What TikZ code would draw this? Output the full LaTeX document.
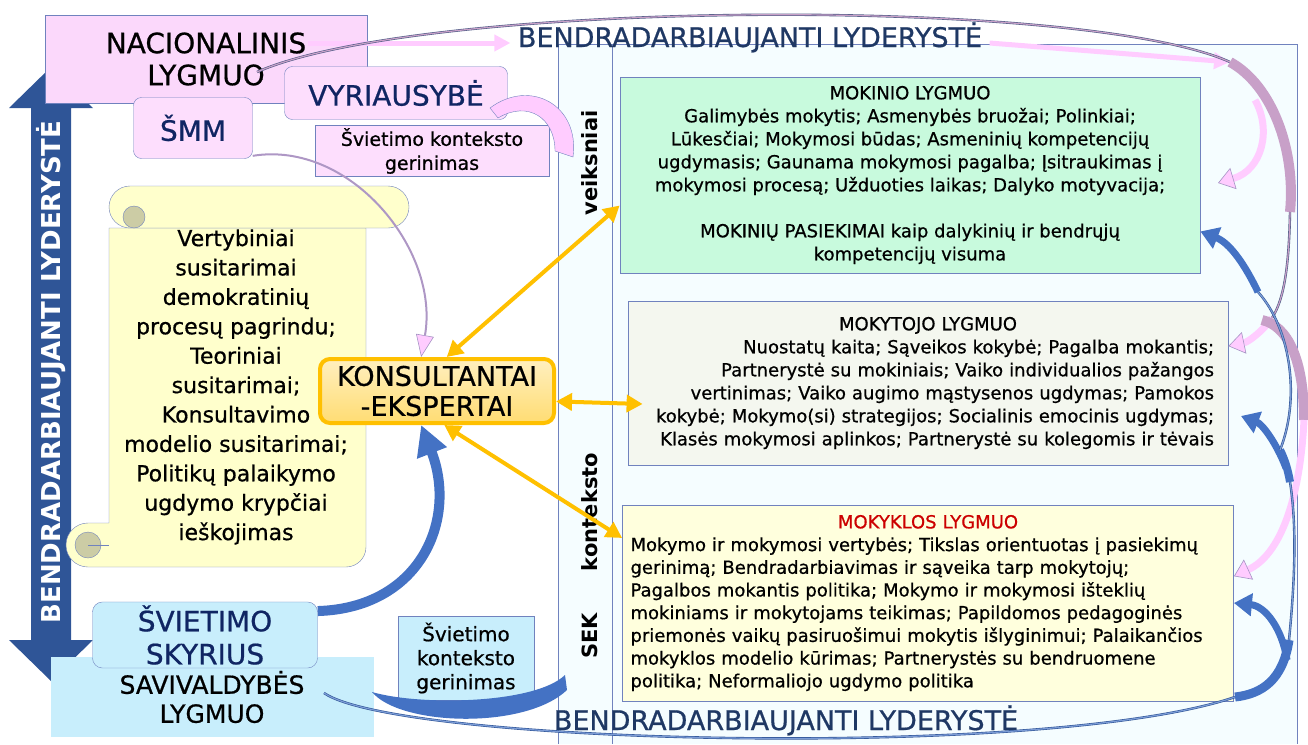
\documentclass[tikz,border=0pt]{standalone}
\usepackage{fontspec}
\setmainfont{DejaVu Sans}[UprightFeatures={FakeBold=0.7}]
\usetikzlibrary{arrows.meta, calc}
\definecolor{nacpink}{RGB}{251,216,251}
\definecolor{boxpink}{RGB}{253,222,253}
\definecolor{frameblue}{RGB}{112,130,190}
\definecolor{navy}{RGB}{16,37,99}
\definecolor{titleblue}{RGB}{31,56,100}
\definecolor{arrowblue}{RGB}{47,85,151}
\definecolor{bandblue}{RGB}{68,114,196}
\definecolor{panelfill}{RGB}{245,253,255}
\definecolor{mintfill}{RGB}{200,250,221}
\definecolor{paperfill}{RGB}{244,247,239}
\definecolor{creamfill}{RGB}{255,255,221}
\definecolor{scrollfill}{RGB}{255,255,204}
\definecolor{curlfill}{RGB}{204,204,165}
\definecolor{amber}{RGB}{255,192,0}
\definecolor{skyfill}{RGB}{200,238,252}
\definecolor{mauve}{RGB}{200,160,200}
\definecolor{rosa}{RGB}{255,204,255}
\definecolor{schoolred}{RGB}{204,0,0}
\tikzset{
    pinkbox/.style={draw=frameblue, fill=boxpink, rounded corners=8pt, text=navy, font=\fontsize{28}{30}\selectfont},
    levelbox/.style={draw=frameblue, line width=0.8pt, inner sep=0pt, font=\fontsize{18}{23}\selectfont},
    ctxbox/.style={draw=frameblue, align=center, inner sep=0pt},
    sidelabel/.style={rotate=90, font=\bfseries\fontsize{21}{21}\selectfont},
    leadtitle/.style={text=titleblue, anchor=base, font=\fontsize{27}{27}\selectfont},
    twoway/.style={{Triangle[length=16pt,width=17pt]}-{Triangle[length=16pt,width=17pt]}, amber, line width=4pt},
    rosaline/.style={-{Triangle[length=16pt,width=16pt]}, rosa, line width=5pt},
    rosaarrow/.style={-{Triangle[length=16pt,width=22pt,fill=rosa,color=mauve!60!frameblue,line width=0.6pt]}, rosa, line width=7pt},
    bluearrow/.style={-{Triangle[length=18pt,width=22pt]}, bandblue, line width=7pt},
    thinrope/.style={draw=frameblue!70!black, double=mauve, double distance=1.2pt, line width=0.6pt},
    bluerope/.style={draw=arrowblue, double=bandblue!70!white, double distance=1.2pt, line width=0.6pt}
}
\begin{document}
\begin{tikzpicture}[x=1pt, y=-1pt]
\useasboundingbox (0,0) rectangle (1308,744);

% SEK column
\fill[panelfill] (558,44) rectangle (1297,744);
\draw[frameblue] (558,744) -- (558,44) -- (1297,44) -- (1297,744);
\draw[frameblue] (612,44) -- (612,744);
\node[sidelabel] (veik) at (590,163) {veiksniai};
\node[sidelabel] (kont) at (590,512) {konteksto};
\node[sidelabel] (sek) at (590,636) {SEK};
\node[leadtitle] (toptitle) at (750,47) {BENDRADARBIAUJANTI LYDERYSTĖ};
\node[leadtitle] (bottitle) at (786,730) {BENDRADARBIAUJANTI LYDERYSTĖ};

% leadership arrow on the left
\fill[arrowblue] (51,67) -- (93,108) -- (71,108) -- (71,640) -- (93,640) -- (51,681) -- (9,640) -- (31,640) -- (31,108) -- (9,108) -- cycle;
\node[rotate=90, text=white, font=\bfseries\fontsize{26}{26}\selectfont] (leadleft) at (51,372) {BENDRADARBIAUJANTI LYDERYSTĖ};

% national level
\node[draw=frameblue, fill=nacpink, minimum width=322pt, minimum height=88pt, align=center, font=\fontsize{28}{32}\selectfont] (nac) at (206,59) {NACIONALINIS\\LYGMUO};
\node[pinkbox, minimum width=223pt, minimum height=53pt] (vyr) at (396,93) {VYRIAUSYBĖ};
\node[pinkbox, minimum width=119pt, minimum height=61pt] (smm) at (193,128) {ŠMM};
\node[ctxbox, fill=boxpink, minimum width=234pt, minimum height=51pt, font=\fontsize{19}{24}\selectfont] (gerin) at (432,151) {Švietimo konteksto\\gerinimas};

\coordinate (natail) at (308,43);
\coordinate (nacrope) at (257,72);
\coordinate (ropeturn) at (1230,62);
\draw[rosaline] (natail) -- ($(toptitle.base west)+(-4,-4)$);
\draw[rosaline] ($(toptitle.base east)+(4,-4)$) -- (ropeturn);
\draw[thinrope] (nacrope) .. controls (420,0) and (1080,-5) .. (ropeturn);
\draw[draw=frameblue, fill=rosa] (490,108) .. controls (530,78) and (580,105) .. (573,157) -- (555,151) .. controls (555,118) and (528,100) .. (498,118) -- cycle;

% scroll
\draw[draw=frameblue, fill=scrollfill] (109,228) -- (109,523) -- (88,523) arc[start angle=270, end angle=90, radius=22] -- (346,567) arc[start angle=90, end angle=0, radius=20] -- (366,228) -- cycle;
\draw[draw=frameblue, fill=curlfill] (88,545) circle[radius=13];
\draw[frameblue] (88,545) -- (109,545);
\draw[draw=frameblue, fill=scrollfill, rounded corners=21pt] (109,186) rectangle (409,228);
\draw[draw=frameblue, fill=curlfill] (134,217) circle[radius=11];
\node[align=center, font=\fontsize{22}{29.4}\selectfont] (agree) at (236,387) {Vertybiniai\\susitarimai\\demokratinių\\procesų pagrindu;\\Teoriniai\\susitarimai;\\Konsultavimo\\modelio susitarimai;\\Politikų palaikymo\\ugdymo krypčiai\\ieškojimas};

\node[draw=amber, line width=4pt, rounded corners=10pt, top color=amber!25!white, bottom color=amber!55!white, minimum width=234pt, minimum height=64pt, align=center, font=\fontsize{27}{30}\selectfont] (konsult) at (437,391) {KONSULTANTAI\\-EKSPERTAI};

% levels
\node[levelbox, fill=mintfill, align=center, minimum width=580pt, minimum height=196pt] (mokinio) at (910,175) {MOKINIO LYGMUO\\
    Galimybės mokytis; Asmenybės bruožai; Polinkiai;\\
    Lūkesčiai; Mokymosi būdas; Asmeninių kompetencijų\\
    ugdymasis; Gaunama mokymosi pagalba; Įsitraukimas į\\
    mokymosi procesą; Užduoties laikas; Dalyko motyvacija;\\[23pt]
    MOKINIŲ PASIEKIMAI kaip dalykinių ir bendrųjų\\
    kompetencijų visuma};
\node[levelbox, fill=paperfill, text width=572pt, inner xsep=14pt, minimum height=164pt] (mokytojo) at (928,383) {\centering MOKYTOJO LYGMUO\par
    \raggedleft Nuostatų kaita; Sąveikos kokybė; Pagalba mokantis;\\
    Partnerystė su mokiniais; Vaiko individualios pažangos\\
    vertinimas; Vaiko augimo mąstysenos ugdymas; Pamokos\\
    kokybė; Mokymo(si) strategijos; Socialinis emocinis ugdymas;\\
    Klasės mokymosi aplinkos; Partnerystė su kolegomis ir tėvais\par};
\node[levelbox, fill=creamfill, text width=595pt, inner xsep=8pt, minimum height=196pt, font=\fontsize{18}{22.7}\selectfont] (mokyklos) at (928,603) {\centering\textcolor{schoolred}{MOKYKLOS LYGMUO}\par
    \raggedright Mokymo ir mokymosi vertybės; Tikslas orientuotas į pasiekimų\\
    gerinimą; Bendradarbiavimas ir sąveika tarp mokytojų;\\
    Pagalbos mokantis politika; Mokymo ir mokymosi išteklių\\
    mokiniams ir mokytojams teikimas; Papildomos pedagoginės\\
    priemonės vaikų pasiruošimui mokytis išlyginimui; Palaikančios\\
    mokyklos modelio kūrimas; Partnerystės su bendruomene\\
    politika; Neformaliojo ugdymo politika\par};

\draw[twoway] (konsult.74) -- (mokinio.186);
\draw[twoway] (konsult.-5) -- ($(mokytojo.184)+(15,0)$);
\draw[twoway] (konsult.-78) -- (mokyklos.168);
\draw[mauve!70!frameblue, line width=2pt, -{Triangle[length=22pt,width=18pt,fill=rosa,color=mauve!60!frameblue,line width=0.6pt]}] (smm.-25) .. controls (350,140) and (440,250) .. (konsult.115);

% municipal level
\node[fill=skyfill, minimum width=323pt, minimum height=80pt, align=center, font=\fontsize{25}{29}\selectfont] (sav) at (212,697) {SAVIVALDYBĖS\\LYGMUO};
\node[draw=frameblue, fill=skyfill, rounded corners=10pt, minimum width=225pt, minimum height=64pt, align=center, text=navy, font=\fontsize{28}{33}\selectfont] (skyrius) at (205,635) {ŠVIETIMO\\SKYRIUS};
\node[ctxbox, fill=skyfill, minimum width=136pt, minimum height=84pt, font=\fontsize{20}{24}\selectfont] (gerin2) at (466,658) {Švietimo\\konteksto\\gerinimas};
\fill[bandblue] (372,692) .. controls (400,726) and (525,730) .. (567,690) -- (565,675) .. controls (535,704) and (420,706) .. (372,692) -- cycle;
\draw[bluearrow, line width=10pt, -{Triangle[length=30pt,width=30pt]}] (skyrius.12) .. controls (420,608) and (458,520) .. (konsult.-115);

% links down the right edge
\coordinate (mokinioin) at (1218,183);
\coordinate (mokytojoin) at (1241,416);
\coordinate (savrope) at (324,693);
\draw[mauve, line width=10pt] (ropeturn) .. controls (1272,85) and (1296,150) .. (1290,212) coordinate (ropedown);
\draw[rosaarrow] (1255,100) .. controls (1272,130) and (1262,170) .. (mokinioin);
\draw[thinrope] (ropedown) .. controls (1289,262) and (1285,298) .. (1272,318) coordinate (ropelow);
\draw[rosaarrow] (ropelow) .. controls (1262,332) and (1248,342) .. (mokytojo.7);
\draw[mauve, line width=10pt] (1262,320) .. controls (1288,326) and (1304,360) .. (1304,420) coordinate (ropeside);
\draw[rosaarrow] (ropeside) .. controls (1300,500) and (1280,555) .. (mokyklos.5);

\draw[bluerope] (savrope) .. controls (400,745) and (1050,760) .. (1235,697) coordinate (bandfoot);
\draw[bandblue, line width=9pt] (bandfoot) .. controls (1262,694) and (1283,680) .. (1289,640) coordinate (bandtop);
\draw[bluearrow] (1287,660) .. controls (1282,628) and (1265,606) .. (mokyklos.east);
\draw[bluerope] (bandtop) .. controls (1296,570) and (1296,520) .. (1290,482) coordinate (midband);
\draw[bandblue, line width=8pt] (midband) .. controls (1288,470) and (1285,460) .. (1280,450) coordinate (midtop);
\draw[bluearrow] (1286,468) .. controls (1276,442) and (1262,424) .. (mokytojoin);
\draw[bluerope] (midtop) .. controls (1300,400) and (1292,330) .. (1258,292) coordinate (uppband);
\draw[bluearrow] (uppband) .. controls (1245,265) and (1230,243) .. (mokinio.-11);
\end{tikzpicture}
\end{document}
